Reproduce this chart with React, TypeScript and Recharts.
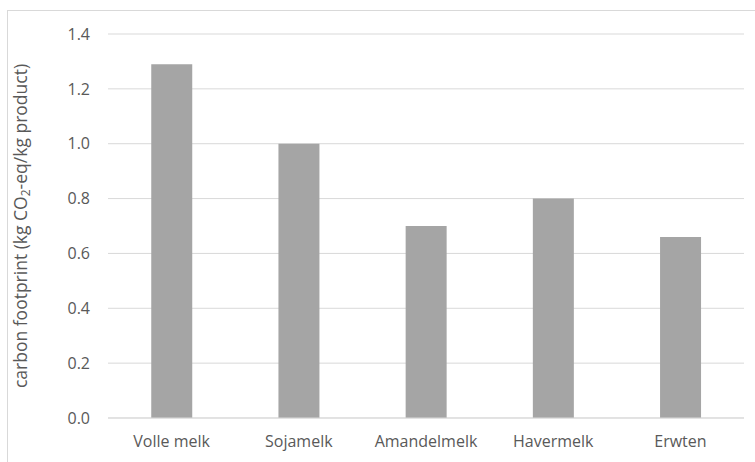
import { BarChart, Bar, XAxis, YAxis, CartesianGrid, Label } from 'recharts';

const products = ['Volle melk', 'Sojamelk', 'Amandelmelk', 'Havermelk', 'Erwten'];
const footprint = [1.29, 1.0, 0.7, 0.8, 0.66];
const yTicks = [0, 0.2, 0.4, 0.6, 0.8, 1.0, 1.2, 1.4];

const data = products.map((name, i) => ({ name, value: footprint[i] }));

const FONT = '"Open Sans", "Noto Sans", sans-serif';
const TEXT = '#595959';

const YLabel = ({ viewBox }: any) => {
  const cx = 20;
  const cy = viewBox ? viewBox.y + viewBox.height / 2 : 226;
  return (
    <text
      x={cx}
      y={cy}
      transform={`rotate(-90 ${cx} ${cy})`}
      textAnchor="middle"
      dominantBaseline="central"
      fill={TEXT}
      fontSize={17.5}
      fontFamily={FONT}
    >
      <tspan>carbon footprint (kg CO</tspan>
      <tspan fontSize={12} dy={5}>2</tspan>
      <tspan dy={-5}>-eq/kg product)</tspan>
    </text>
  );
};

const App = () => (
  <div style={{ position: 'absolute', left: 0, top: 0, width: 755, height: 462, background: '#fff' }}>
    <div
      style={{
        position: 'absolute',
        left: 7,
        top: 10,
        width: 748,
        height: 452,
        borderTop: '1px solid #d9d9d9',
        borderLeft: '1px solid #d9d9d9',
      }}
    />
    <div style={{ position: 'absolute', left: 0, top: 0 }}>
      <BarChart
        width={755}
        height={462}
        data={data}
        margin={{ top: 34, right: 11, bottom: 14, left: 0 }}
        barCategoryGap="34%"
      >
        <CartesianGrid vertical={false} stroke="#d9d9d9" strokeWidth={1} />
        <XAxis
          dataKey="name"
          height={30}
          axisLine={{ stroke: '#d9d9d9' }}
          tickLine={false}
          tickMargin={12}
          tick={{ fill: TEXT, fontSize: 16, fontFamily: FONT }}
        />
        <YAxis
          width={108}
          domain={[0, 1.4]}
          ticks={yTicks}
          axisLine={false}
          tickLine={false}
          tickMargin={12}
          tickFormatter={(v: number) => v.toFixed(1)}
          tick={{ fill: TEXT, fontSize: 16, fontFamily: FONT }}
        >
          <Label content={<YLabel />} />
        </YAxis>
        <Bar dataKey="value" fill="#a5a5a5" isAnimationActive={false} />
      </BarChart>
    </div>
  </div>
);

export default App;
